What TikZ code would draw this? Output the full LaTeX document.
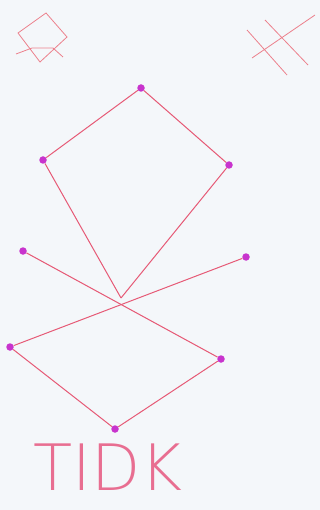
\documentclass[tikz,border=0pt]{standalone}
\usepackage{fontspec}
\newfontfamily\thinfont{DejaVu Sans ExtraLight}
\usepackage{tikz}
\usetikzlibrary{positioning,calc}

\definecolor{bgc}{RGB}{244,247,250}
\definecolor{linec}{RGB}{230,90,118}
\definecolor{iconc}{RGB}{236,128,140}
\definecolor{dotc}{RGB}{200,52,205}
\definecolor{textc}{RGB}{232,110,145}

\begin{document}
\begin{tikzpicture}[x=1pt,y=-1pt,
    dot/.style={circle,fill=dotc,inner sep=0pt,minimum size=7.5pt},
    edge/.style={linec,line width=1pt},
    icon/.style={iconc,line width=0.8pt}]
    \fill[bgc] (0,0) rectangle (320,510);
    \useasboundingbox (0,0) rectangle (320,510);

    % small marks at the top
    \draw[icon] (46,13) -- (67,37) -- (40,62) -- (18,33) -- cycle;
    \draw[icon] (16,54) -- (32,48) -- (53,48) -- (63,57);
    \draw[icon] (247,30) -- (287,75);
    \draw[icon] (265,20) -- (308,65);
    \draw[icon] (315,15) -- (252,58);

    % upper kite
    \node[dot] (top) at (141,88) {};
    \node[dot] (ul) at (43,160) {};
    \node[dot] (ur) at (229,165) {};
    \coordinate (mid) at (121,298);
    \draw[edge] (top) -- (ul);
    \draw[edge] (top) -- (ur);
    \draw[edge] (ul) -- (mid);
    \draw[edge] (ur) -- (mid);

    % crossing lines and lower kite
    \node[dot] (ml) at (23,251) {};
    \node[dot] (mr) at (246,257) {};
    \node[dot] (ll) at (10,347) {};
    \node[dot] (lr) at (221,359) {};
    \node[dot] (bot) at (115,429) {};
    \draw[edge] (ml) -- (lr);
    \draw[edge] (mr) -- (ll);
    \draw[edge] (ll) -- (bot);
    \draw[edge] (lr) -- (bot);

    \node[textc,font=\thinfont\fontsize{64}{64}\selectfont,anchor=base west,inner sep=0pt] (tidk) at (33,490) {TIDK};
\end{tikzpicture}
\end{document}
